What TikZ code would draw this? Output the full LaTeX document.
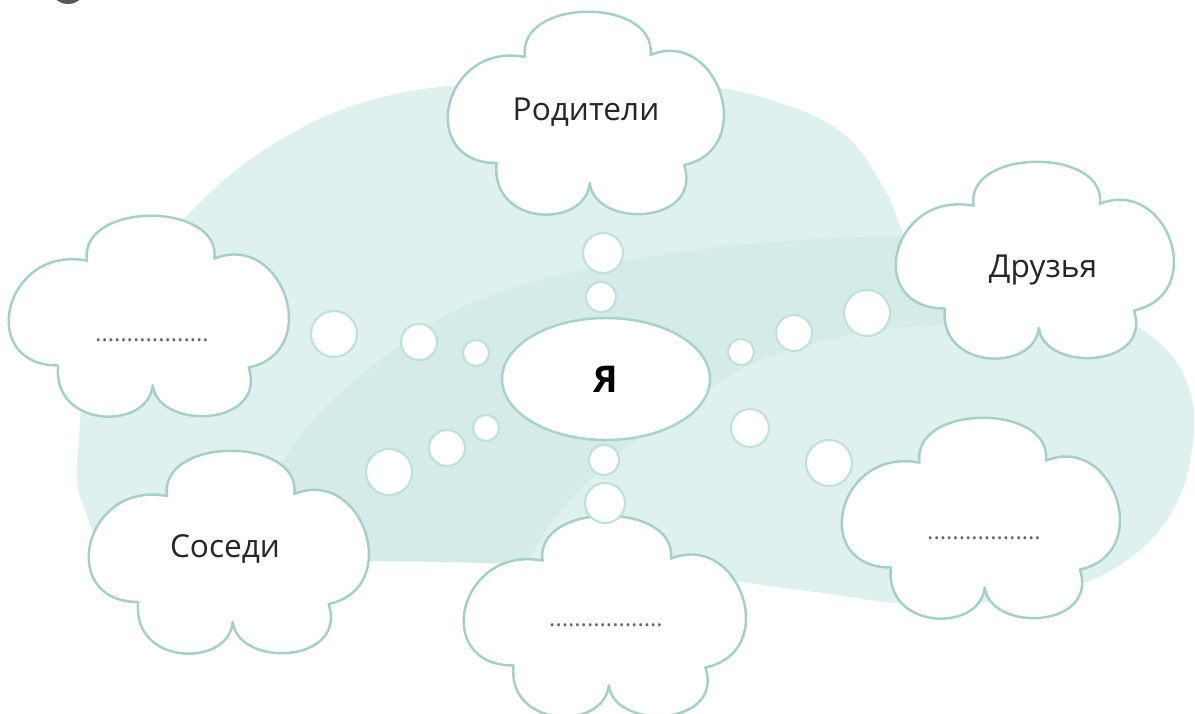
\documentclass[tikz,border=0pt]{standalone}
\usepackage{fontspec}
\setmainfont{Open Sans}
\usetikzlibrary{shapes.geometric}
\definecolor{blobc}{RGB}{223,241,238}
\definecolor{bandc}{RGB}{212,235,231}
\definecolor{cloudc}{RGB}{166,207,200}
\definecolor{bubc}{RGB}{192,225,219}
\definecolor{ellc}{RGB}{168,210,203}
\definecolor{txtc}{RGB}{38,38,38}
\begin{document}
\begin{tikzpicture}[x=0.02cm,y=-0.02cm,
  cloudline/.style={draw=cloudc, line width=1.4pt, fill=white, line join=round},
  bubble/.style={circle, draw=bubc, fill=white, line width=1.2pt, inner sep=0pt, minimum size=#1*0.02cm},
  lbl/.style={text=txtc, font=\fontsize{18}{21}\selectfont, inner sep=0pt},
  dotsl/.style={text={rgb,255:red,105;green,105;blue,105}, font=\fontsize{13.5}{16}\selectfont, inner sep=0pt},
  mycloud/.pic={
    \path[cloudline] (-0.46,0.56) .. controls (-0.52,1.16) and (0.52,1.16) .. (0.47,0.58)
      .. controls (0.97,0.86) and (1.27,-0.36) .. (0.72,-0.52)
      .. controls (0.86,-1.12) and (0.06,-1.16) .. (0.02,-0.70)
      .. controls (-0.01,-1.16) and (-0.72,-1.14) .. (-0.67,-0.50)
      .. controls (-1.27,-0.5) and (-1.07,0.72) .. cycle;
  }]
\useasboundingbox (0,0) rectangle (1195,713);
\clip (0,0) rectangle (1195,713);
\fill[white] (0,0) rectangle (1195,713);
% top-left partial icon
\fill[black!65] (68,-14) circle[radius=18];
% background blob
\def\blobpath{plot[smooth cycle, tension=0.65] coordinates {(400,93) (560,82) (700,86) (780,103) (845,135) (885,190) (915,250) (980,290) (1080,305) (1150,335) (1188,385) (1192,450) (1170,515) (1120,565) (1050,592) (930,605) (800,590) (640,570) (450,562) (250,560) (120,552) (85,510) (78,450) (100,330) (183,220) (280,140)}}
\fill[blobc] \blobpath;
\begin{scope}
  \clip \blobpath;
  \fill[bandc] plot[smooth, tension=0.6] coordinates {(220,620) (290,450) (400,345) (500,292) (650,257) (800,240) (1000,235) (1100,240)}
    -- (1100,325) -- plot[smooth, tension=0.6] coordinates {(1000,325) (880,330) (760,360) (680,410) (600,470) (540,540) (510,620)} -- cycle;
\end{scope}
% clouds
\pic[xscale=135,yscale=-100] at (587,113) {mycloud};
\pic[xscale=137,yscale=-99] at (150,316) {mycloud};
\pic[xscale=136,yscale=-97] at (1036,260) {mycloud};
\pic[xscale=136,yscale=-99] at (982,518) {mycloud};
\pic[xscale=137,yscale=-100] at (230,552) {mycloud};
\pic[xscale=138,yscale=-99] at (606,616) {mycloud};
% bubbles
\node[bubble=40] (bt1) at (603,253) {};
\node[bubble=30] (bt2) at (601,297) {};
\node[bubble=30] (bb1) at (604,460) {};
\node[bubble=40] (bb2) at (605,503) {};
\node[bubble=46] (bl1) at (334,334) {};
\node[bubble=36] (bl2) at (419,342) {};
\node[bubble=26] (bl3) at (476,353) {};
\node[bubble=46] (bll1) at (389,472) {};
\node[bubble=36] (bll2) at (447,448) {};
\node[bubble=26] (bll3) at (486,428) {};
\node[bubble=26] (br1) at (741,352) {};
\node[bubble=36] (br2) at (794,333) {};
\node[bubble=46] (br3) at (867,313) {};
\node[bubble=38] (brr1) at (750,428) {};
\node[bubble=46] (brr2) at (829,463) {};
% centre
\node[ellipse, draw=ellc, fill=white, line width=1.4pt, minimum width=208*0.02cm, minimum height=122*0.02cm, text=black, font=\bfseries\fontsize{21}{24}\selectfont] (me) at (606,379) {Я};
% labels
\node[lbl] (parents) at (586,112) {Родители};
\node[lbl] (friends) at (1043,270) {Друзья};
\node[lbl] (neighbours) at (225,549) {Соседи};
\node[dotsl] (blank1) at (152,340) {..................};
\node[dotsl] (blank2) at (984,538) {..................};
\node[dotsl] (blank3) at (606,625) {..................};
\end{tikzpicture}
\end{document}
